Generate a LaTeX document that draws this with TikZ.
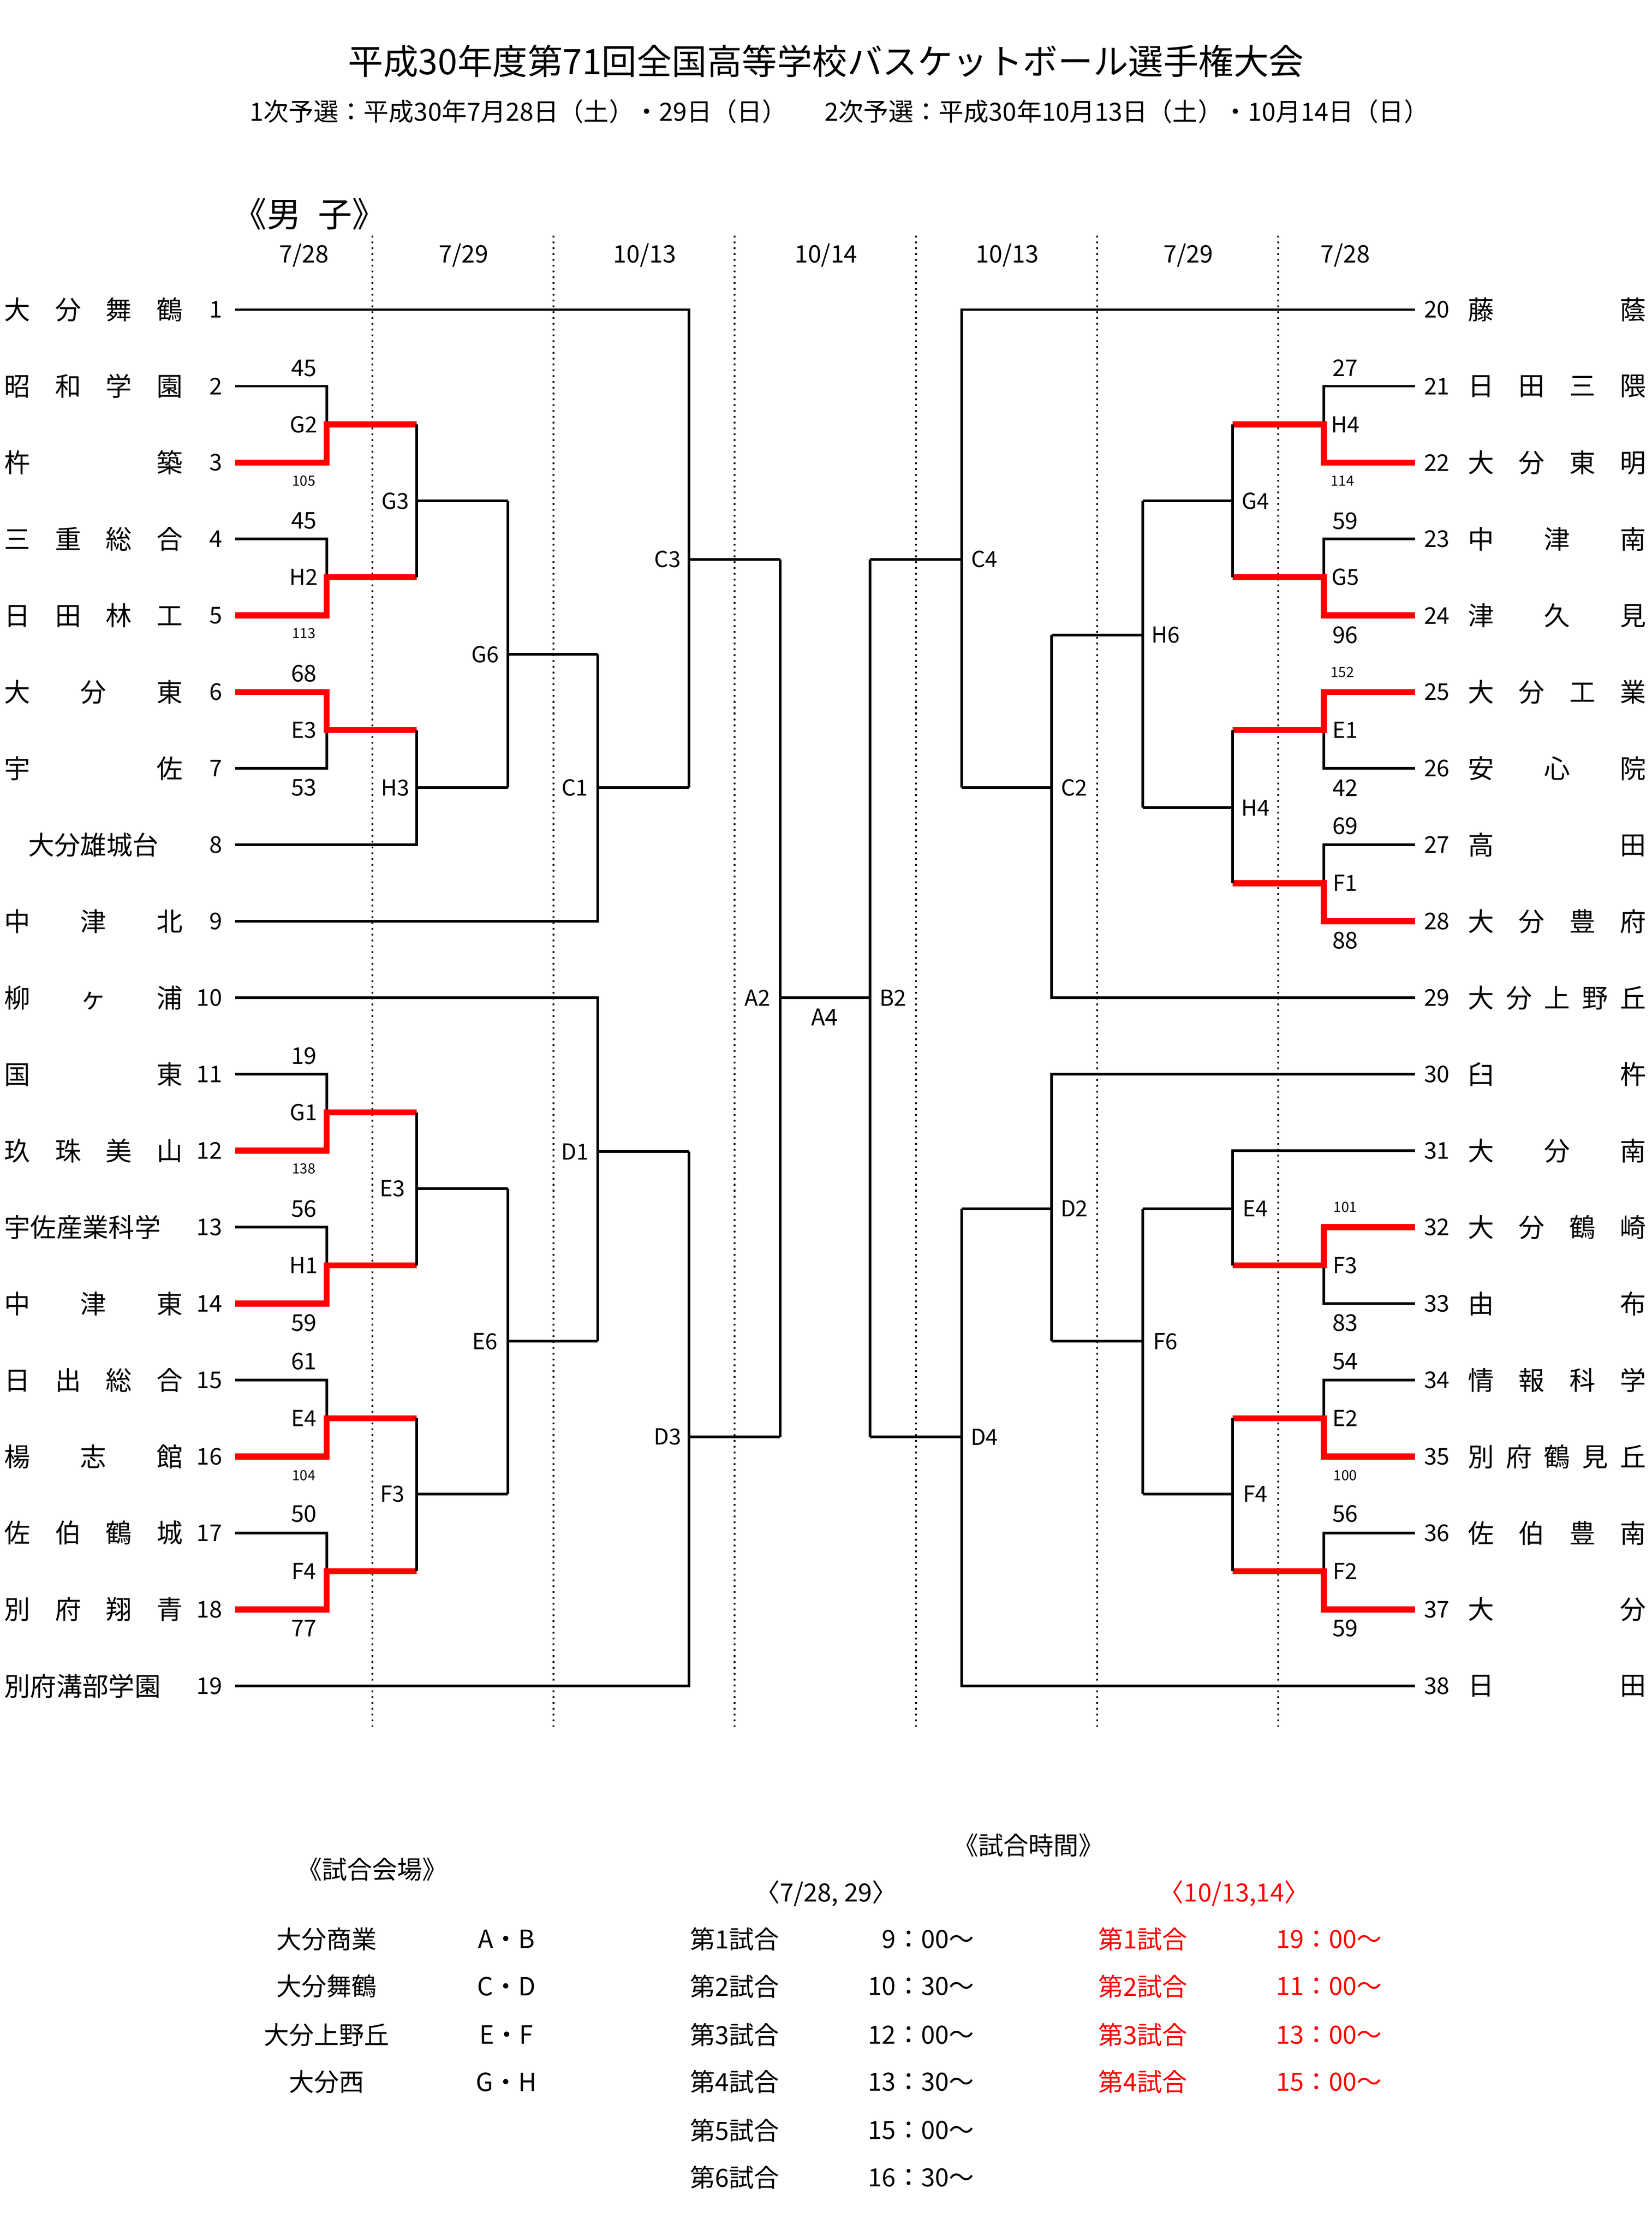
\documentclass[tikz,border=0pt]{standalone}
\usepackage{fontspec}
\setmainfont{Noto Sans CJK JP}
\begin{document}
\begin{tikzpicture}[x=0.025cm,y=-0.025cm,
  ln/.style={line width=1.3pt},
  rd/.style={line width=3pt,red},
  lab/.style={font=\fontsize{11}{11}\selectfont,inner sep=0pt},
  sc/.style={font=\fontsize{11.5}{11.5}\selectfont,inner sep=0pt},
  ss/.style={font=\fontsize{7}{7}\selectfont,inner sep=0pt},
  nm/.style={font=\fontsize{13}{13}\selectfont,inner sep=0pt,text width=3.125cm},
  num/.style={font=\fontsize{11.5}{11.5}\selectfont,inner sep=0pt},
  hd/.style={font=\fontsize{12}{12}\selectfont,inner sep=0pt},
  bt/.style={font=\fontsize{12.5}{12.5}\selectfont,inner sep=0pt}]
\useasboundingbox (0,0) rectangle (1158,1567);
% dotted
\foreach \x in {261,388,515,642,769,896} \draw[dotted,line width=0.9pt] (\x,165)--(\x,1210);
% header
\node[font=\fontsize{17.5}{17.5}\selectfont] (t) at (579,43) {平成30年度第71回全国高等学校バスケットボール選手権大会};
\node[font=\fontsize{12.5}{12.5}\selectfont,anchor=west] (s1) at (170,78) {1次予選：平成30年7月28日（土）・29日（日）};
\node[font=\fontsize{12.5}{12.5}\selectfont,anchor=west] (s2) at (573,78) {2次予選：平成30年10月13日（土）・10月14日（日）};
\node[font=\fontsize{17}{17}\selectfont] (dan) at (217,150) {《男\hspace{0.5em}子》};
\foreach \x/\t in {213/7\slash 28,325/7\slash 29,452/10\slash 13,579/10\slash 14,706/10\slash 13,833/7\slash 29,943/7\slash 28}
  \node[hd] at (\x,179) {\t};
% macros for first round pairs
\newcommand\LPb[3]{\draw[ln] (165,#1)--(229,#1)--(229,#3); \draw[rd] (165,#2)--(229,#2)--(229,#3)--(292,#3);}
\newcommand\LPt[3]{\draw[ln] (165,#2)--(229,#2)--(229,#3); \draw[rd] (165,#1)--(229,#1)--(229,#3)--(292,#3);}
\newcommand\RPb[3]{\draw[ln] (992,#1)--(928,#1)--(928,#3); \draw[rd] (992,#2)--(928,#2)--(928,#3)--(864,#3);}
\newcommand\RPt[3]{\draw[ln] (992,#2)--(928,#2)--(928,#3); \draw[rd] (992,#1)--(928,#1)--(928,#3)--(864,#3);}
\LPb{270.6}{324.2}{297.4}
\LPb{377.7}{431.3}{404.5}
\LPt{484.9}{538.5}{511.7}
\LPb{752.8}{806.4}{779.6}
\LPb{860}{913.5}{886.8}
\LPb{967.1}{1020.7}{993.9}
\LPb{1074.3}{1127.9}{1101.1}
\RPb{270.6}{324.2}{297.4}
\RPb{377.7}{431.3}{404.5}
\RPt{484.9}{538.5}{511.7}
\RPb{592.1}{645.6}{618.9}
\RPt{860}{913.5}{886.8}
\RPb{967.1}{1020.7}{993.9}
\RPb{1074.3}{1127.9}{1101.1}
% left tree
\draw[ln] (292,297.4)--(292,404.5) (292,351)--(356,351);
\draw[ln] (165,592.1)--(292,592.1)--(292,511.7) (292,552)--(356,552);
\draw[ln] (356,351)--(356,552) (356,458.5)--(419,458.5);
\draw[ln] (165,645.6)--(419,645.6)--(419,458.5) (419,552)--(483,552);
\draw[ln] (165,217)--(483,217)--(483,552) (483,392)--(547,392);
\draw[ln] (165,699.2)--(419,699.2)--(419,940) (419,807)--(483,807);
\draw[ln] (292,779.6)--(292,886.8) (292,833)--(356,833);
\draw[ln] (292,993.9)--(292,1101.1) (292,1047)--(356,1047);
\draw[ln] (356,833)--(356,1047) (356,940)--(419,940);
\draw[ln] (165,1181.4)--(483,1181.4)--(483,807) (483,1007)--(547,1007);
\draw[ln] (547,392)--(547,1007) (547,699.2)--(610,699.2);
\draw[ln] (610,392)--(610,1007);
% right tree
\draw[ln] (992,217)--(674,217)--(674,552) (674,392)--(610,392);
\draw[ln] (992,699.2)--(737,699.2)--(737,445) (737,552)--(674,552);
\draw[ln] (801,351)--(801,566) (801,445)--(737,445);
\draw[ln] (864,297.4)--(864,404.5) (864,351)--(801,351);
\draw[ln] (864,511.7)--(864,618.9) (864,566)--(801,566);
\draw[ln] (992,752.8)--(737,752.8)--(737,940) (737,847)--(674,847);
\draw[ln] (992,806.4)--(864,806.4)--(864,886.8) (864,847)--(801,847);
\draw[ln] (864,993.9)--(864,1101.1) (864,1047)--(801,1047);
\draw[ln] (801,847)--(801,1047) (801,940)--(737,940);
\draw[ln] (992,1181.4)--(674,1181.4)--(674,847) (674,1007)--(610,1007);
% match labels
\foreach \x/\y/\t in {213/297.4/G2,213/404.5/H2,213/511.7/E3,277/351/G3,277/552/H3,340/458.5/G6,403/552/C1,468/392/C3,
  213/779.6/G1,213/886.8/H1,213/993.9/E4,213/1101.1/F4,275/833/E3,275/1047/F3,340/940/E6,403/807/D1,468/1007/D3,531/699.2/A2,
  626/699.2/B2,690/392/C4,753/552/C2,817/445/H6,880/351/G4,880/566/H4,943/297.4/H4,943/404.5/G5,943/511.7/E1,943/618.9/F1,
  753/847/D2,880/847/E4,880/1047/F4,817/940/F6,690/1007/D4,943/886.8/F3,943/993.9/E2,943/1101.1/F2}
  \node[lab,fill=white,inner sep=1pt] at (\x,\y) {\t};
\node[sc] (a4) at (578,713) {A4};
% scores
\foreach \x/\y/\t in {213/258/45,213/365/45,213/472/68,213/552/53,213/740/19,213/847/56,213/927/59,213/954/61,213/1061/50,213/1141/77,
  943/258/27,943/365/59,943/445/96,943/552/42,943/579/69,943/659/88,943/927/83,943/954/54,943/1061/56,943/1141/59}
  \node[sc] at (\x,\y) {\t};
\foreach \x/\y/\t in {213/337/105,213/444/113,213/819/138,213/1034/104,941/337/114,941/471/152,943/846/101,943/1034/100}
  \node[ss] at (\x,\y) {\t};
% numbers
\foreach \i in {1,...,19} {
  \pgfmathsetmacro\yy{217+53.58*(\i-1)}
  \node[num,anchor=east] at (156,\yy) {\i};
  \pgfmathtruncatemacro\j{\i+19}
  \node[num,anchor=west] at (998,\yy) {\j};
}
% left names
\foreach \i/\t in {1/大\hfill 分\hfill 舞\hfill 鶴,2/昭\hfill 和\hfill 学\hfill 園,3/杵\hfill 築,4/三\hfill 重\hfill 総\hfill 合,
  5/日\hfill 田\hfill 林\hfill 工,6/大\hfill 分\hfill 東,7/宇\hfill 佐,8/\hfill 大分雄城台\hfill\mbox{},9/中\hfill 津\hfill 北,
  10/柳\hfill ヶ\hfill 浦,11/国\hfill 東,12/玖\hfill 珠\hfill 美\hfill 山,13/宇佐産業科学,14/中\hfill 津\hfill 東,
  15/日\hfill 出\hfill 総\hfill 合,16/楊\hfill 志\hfill 館,17/佐\hfill 伯\hfill 鶴\hfill 城,18/別\hfill 府\hfill 翔\hfill 青,19/別府溝部学園} {
  \pgfmathsetmacro\yy{217+53.58*(\i-1)}
  \node[nm] at (65.5,\yy) {\t};
}
\foreach \i/\t in {1/藤\hfill 蔭,2/日\hfill 田\hfill 三\hfill 隈,3/大\hfill 分\hfill 東\hfill 明,4/中\hfill 津\hfill 南,
  5/津\hfill 久\hfill 見,6/大\hfill 分\hfill 工\hfill 業,7/安\hfill 心\hfill 院,8/高\hfill 田,9/大\hfill 分\hfill 豊\hfill 府,
  10/大\hfill 分\hfill 上\hfill 野\hfill 丘,11/臼\hfill 杵,12/大\hfill 分\hfill 南,13/大\hfill 分\hfill 鶴\hfill 崎,14/由\hfill 布,
  15/情\hfill 報\hfill 科\hfill 学,16/別\hfill 府\hfill 鶴\hfill 見\hfill 丘,17/佐\hfill 伯\hfill 豊\hfill 南,18/大\hfill 分,19/日\hfill 田} {
  \pgfmathsetmacro\yy{217+53.58*(\i-1)}
  \node[nm] at (1091.5,\yy) {\t};
}
% bottom
\node[bt] (v) at (261,1310) {《試合会場》};
\foreach \y/\a/\b in {1359/大分商業/A・B,1392/大分舞鶴/C・D,1426/大分上野丘/E・F,1459/大分西/G・H} {
  \node[bt] at (229,\y) {\a}; \node[bt] at (355,\y) {\b};}
\node[bt] (tm) at (721,1293) {《試合時間》};
\node[bt] (d1) at (579,1327) {〈7/28, 29〉};
\node[bt,red] (d2) at (865,1327) {〈10/13,14〉};
\foreach \y/\n/\t in {1359/1/9：00～,1392/2/10：30～,1426/3/12：00～,1459/4/13：30～,1493/5/15：00～,1526/6/16：30～} {
  \node[bt] at (515,\y) {第\n 試合}; \node[bt,anchor=east] at (683,\y) {\t};}
\foreach \y/\n/\t in {1359/1/19：00～,1392/2/11：00～,1426/3/13：00～,1459/4/15：00～} {
  \node[bt,red] at (801,\y) {第\n 試合}; \node[bt,red,anchor=east] at (969,\y) {\t};}
\end{tikzpicture}
\end{document}
